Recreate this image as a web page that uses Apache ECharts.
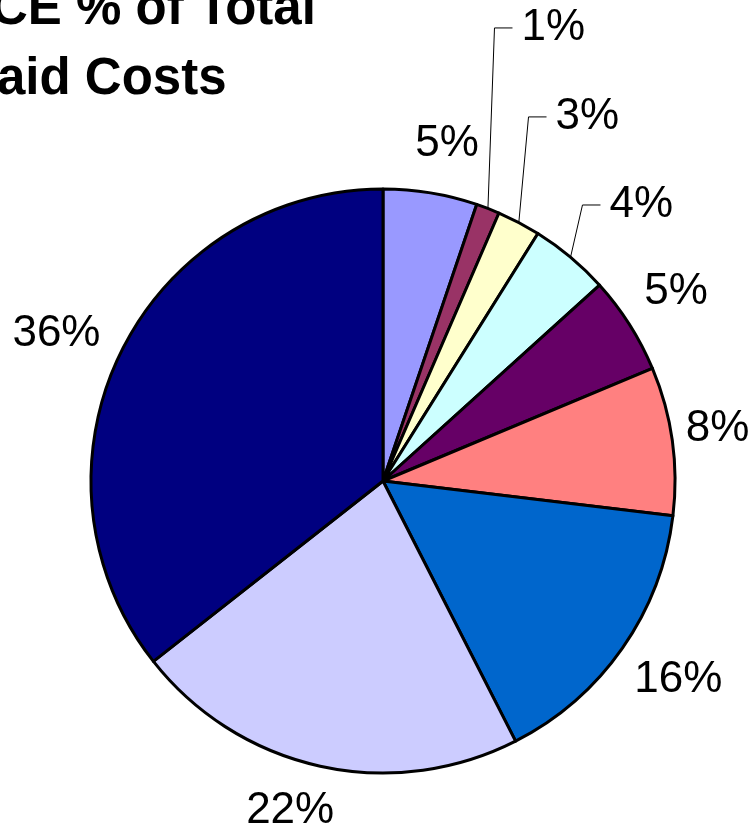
<!DOCTYPE html>
<html><head><meta charset="utf-8">
<script src="https://cdn.jsdelivr.net/npm/echarts@6/dist/echarts.min.js"></script>
<style>html,body{margin:0;padding:0;background:#fff;overflow:hidden}#c{width:753px;height:828px}</style>
</head><body><div id="c"></div>
<script>
// ---- data ----
const categories = ['Slice 1','Slice 2','Slice 3','Slice 4','Slice 5','Slice 6','Slice 7','Slice 8','Slice 9'];
const values = [5.2, 1.3, 2.4, 4.4, 5.4, 8.2, 15.6, 21.9, 35.6];
const valueLabels = ['5%','1%','3%','4%','5%','8%','16%','22%','36%'];
const colors = ['#9999FF','#993366','#FFFFCC','#CCFFFF','#660066','#FF8080','#0066CC','#CCCCFF','#000080'];
const titleLines = ['CE % of Total','aid Costs'];

// ---- layout ----
const CX = 383, CY = 481, R = 292;
// label placement: [angle clockwise from 12 o'clock, distance from pie centre]
const labelPlacement = [[10.75, 343], [20.6, 484], [29.3, 417.5], [43.1, 378], [57.2, 348.7],
                        [81.2, 338.5], [124.0, 356.3], [195.7, 343], [294.2, 358]];
const leaderItems = [false, true, true, true, false, false, false, false, false];
const total = values.reduce((a, b) => a + b, 0);
const mids = []; let acc = 0;
values.forEach(v => { mids.push((acc + v / 2) / total * 360); acc += v; });

const chart = echarts.init(document.getElementById('c'), null, {renderer: 'canvas'});
const font = '"Liberation Sans", Arial, sans-serif';
chart.setOption({
  animation: false,
  backgroundColor: '#fff',
  graphic: [
    {type: 'text', x: -9, y: 25 - 15.5, style: {text: titleLines[0], font: 'bold 51px ' + font, fill: '#000', align: 'left', verticalAlign: 'middle'}},
    {type: 'text', x: -3, y: 95 - 15.5, style: {text: titleLines[1], font: 'bold 51px ' + font, fill: '#000', align: 'left', verticalAlign: 'middle'}}
  ],
  series: [{
    type: 'pie',
    center: [CX, CY],
    radius: R,
    startAngle: 90,
    clockwise: true,
    avoidLabelOverlap: false,
    itemStyle: {borderColor: '#000', borderWidth: 3},
    emphasis: {disabled: true},
    label: {
      show: true, position: 'outside', color: '#000', fontSize: 44, fontFamily: font,
      formatter: p => valueLabels[p.dataIndex]
    },
    labelLine: {show: false, lineStyle: {color: '#000', width: 1}},
    labelLayout: function (p) {
      const i = p.dataIndex;
      const w = p.labelRect.width;
      const a = labelPlacement[i][0] * Math.PI / 180, d = labelPlacement[i][1];
      const x = CX + d * Math.sin(a), y = CY - d * Math.cos(a);
      const out = {x: x, y: y, align: 'center', verticalAlign: 'middle'};
      if (leaderItems[i]) {
        const th = mids[i] * Math.PI / 180;
        const left = x - w / 2;
        out.labelLinePoints = [[CX + R * Math.sin(th), CY - R * Math.cos(th)], [left - 27, y], [left - 9, y]];
      }
      return out;
    },
    data: categories.map((name, i) => ({
      name: name, value: values[i],
      itemStyle: {color: colors[i]},
      labelLine: {show: leaderItems[i]}
    }))
  }]
});
</script></body></html>
